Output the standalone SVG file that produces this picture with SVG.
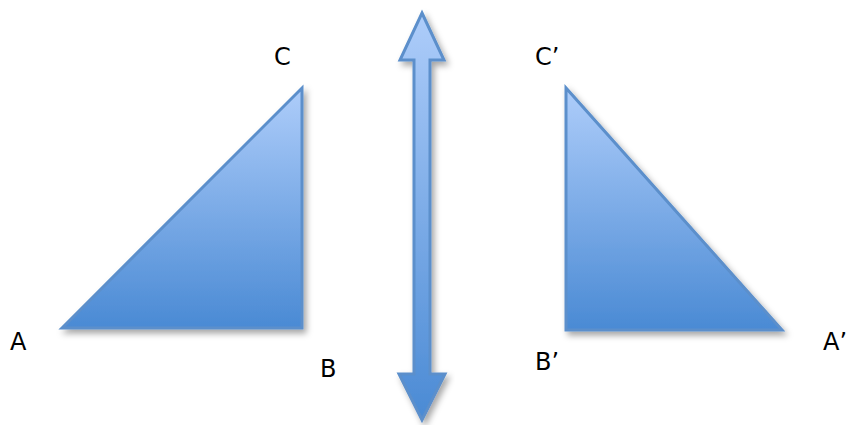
<svg xmlns="http://www.w3.org/2000/svg" width="850" height="425" viewBox="0 0 850 425">
<defs>
<linearGradient id="g" x1="0" y1="0" x2="0" y2="1">
<stop offset="0" stop-color="#aecdfa"/>
<stop offset="1" stop-color="#4a8ad4"/>
</linearGradient>
<filter id="sh" x="-20%" y="-20%" width="140%" height="140%">
<feDropShadow dx="3" dy="4" stdDeviation="3" flood-color="#000" flood-opacity="0.35"/>
</filter>
<style>
.shape{fill:url(#g);stroke:#5b8fcb;stroke-width:3;stroke-linejoin:miter;filter:url(#sh)}
.lbl{font-family:"DejaVu Sans",sans-serif;font-size:24px;fill:#000}
</style>
</defs>
<rect width="850" height="425" fill="#fff"/>
<g id="triangle-ABC">
<polygon class="shape" points="62,328 302,88 302,328"/>
</g>
<g id="triangle-ABC-prime">
<polygon class="shape" points="566,88 566,330 782,330"/>
</g>
<g id="connectors">
<polygon class="shape" points="422,13 444,60 430,60 430,374 445,374 422,420 399,374 414,374 414,60 400,60"/>
</g>
<g id="labels">
<text class="lbl" x="10" y="350">A</text>
<text class="lbl" x="320" y="377">B</text>
<text class="lbl" x="274" y="65">C</text>
<text class="lbl" x="535" y="65">C’</text>
<text class="lbl" x="535" y="370">B’</text>
<text class="lbl" x="823" y="350">A’</text>
</g>
</svg>
